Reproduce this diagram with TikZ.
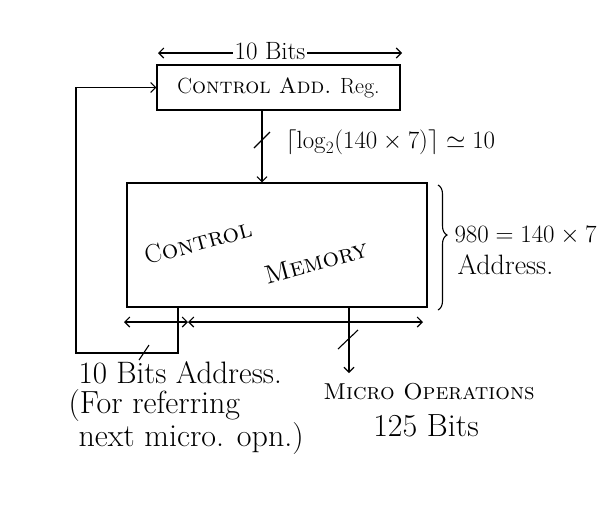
\documentclass[tikz,border=0pt]{standalone}
\usetikzlibrary{arrows.meta,decorations.pathreplacing}
\begin{document}
\begin{tikzpicture}[x=1pt,y=-1pt,line width=1.1pt,
  >={Straight Barb[length=5pt,width=10pt]},
  box/.style={draw,inner sep=0pt},
  lbl/.style={inner sep=1pt},
  slash/.style={line width=1.1pt}]
\useasboundingbox (0,0) rectangle (600,504);
% control address register
\node[box,minimum width=243pt,minimum height=45pt,font=\fontsize{22}{26}\selectfont] (reg) at (278.5,87.5) {C\textsc{ontrol Add.} Reg.};
% 10 bits dimension
\node[lbl,font=\fontsize{25}{28}\selectfont] (bitsT) at (270,51) {10 Bits};
\coordinate (dl) at (158,53);
\coordinate (dr) at (402,53);
\draw[->] (bitsT.west |- dl) -- (dl);
\draw[->] (bitsT.east |- dr) -- (dr);
% control memory
\node[box,minimum width=300pt,minimum height=124pt] (mem) at (277,245) {};
\node[font=\fontsize{26}{28}\selectfont,rotate=15,inner sep=0pt] (memA) at (198,242) {C\textsc{ontrol}};
\node[font=\fontsize{26}{28}\selectfont,rotate=15,inner sep=0pt] (memB) at (316,262) {\textsc{Memory}};
% address arrow reg -> mem
\coordinate (vx) at (262,0);
\draw[->] (reg.south -| vx) -- (mem.north -| vx);
\coordinate (s1a) at (254,148);
\coordinate (s1b) at (270,132);
\draw[slash] (s1a) -- (s1b);
\node[lbl,anchor=west,font=\fontsize{24}{28}\selectfont] (logT) at (284,142) {$\lceil \log_2(140\times 7)\rceil \simeq 10$};
% brace
\coordinate (bt) at (438,185);
\coordinate (bb) at (438,310);
\draw[decorate,decoration={brace,amplitude=9pt,aspect=0.4}] (bt) -- (bb);
\node[anchor=west,inner sep=0pt,font=\fontsize{23}{26}\selectfont] (numT) at (454,236) {$980=140\times 7$};
\node[lbl,anchor=west,font=\fontsize{28}{30}\selectfont] (addrT) at (456,265) {Address.};
% dimension arrows below memory
\coordinate (ml) at (124,322);
\coordinate (mm) at (188,322);
\coordinate (mr) at (423,322);
\draw[<->] (ml) -- (mm);
\draw[<->] (mm) -- (mr);
% feedback path
\coordinate (fb) at (178,0);
\coordinate (fbc) at (178,353);
\coordinate (fbl) at (76,353);
\draw[->] (mem.south -| fb) -- (fbc) -- (fbl) |- (reg.west);
\coordinate (s2a) at (139,360);
\coordinate (s2b) at (149,345);
\draw[slash] (s2a) -- (s2b);
% micro operations output
\coordinate (mx) at (349,0);
\coordinate (mo) at (349,373);
\draw[->] (mem.south -| mx) -- (mo);
\coordinate (s3a) at (338,349);
\coordinate (s3b) at (358,330);
\draw[slash] (s3a) -- (s3b);
% bottom texts
\node[lbl,anchor=west,inner sep=0pt,font=\fontsize{31}{32}\selectfont] (t1) at (78,373) {10 Bits Address.};
\node[lbl,anchor=west,inner sep=0pt,font=\fontsize{32}{32}\selectfont] (t2) at (68,406) {(For referring};
\node[lbl,anchor=west,inner sep=0pt,font=\fontsize{32}{32}\selectfont] (t3) at (78,439) {next micro. opn.)};
\node[lbl,font=\fontsize{23}{26}\selectfont] (t4) at (429,392) {\textsc{Micro Operations}};
\node[lbl,font=\fontsize{32}{34}\selectfont] (t5) at (426,426) {125 Bits};
\end{tikzpicture}
\end{document}
